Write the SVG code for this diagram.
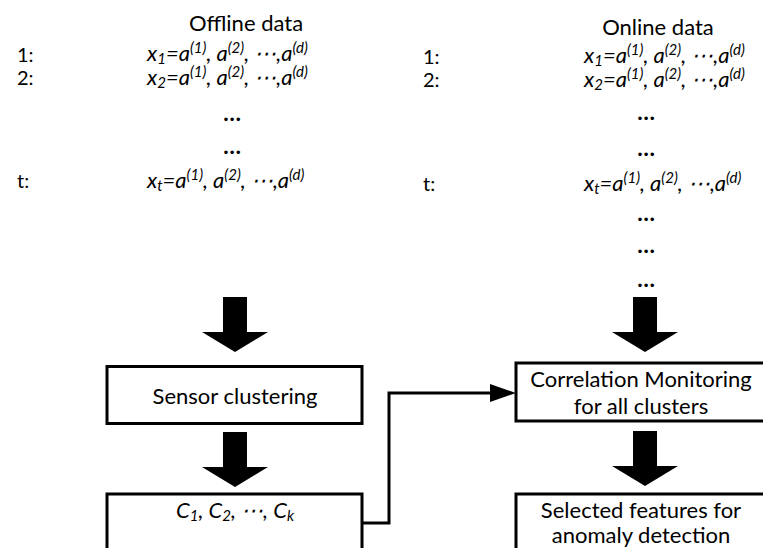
<svg xmlns="http://www.w3.org/2000/svg" xmlns:xlink="http://www.w3.org/1999/xlink" width="763" height="548" viewBox="0 0 763 548">
<style>
text { font-family: Lato, "Open Sans", "Liberation Sans", sans-serif; fill: #000; }
.t { font-size: 22px; }
.lab { font-size: 20px; }
.ex { font-size: 22px; font-style: italic; }
.sm { font-size: 15px; }
.dots { font-size: 23px; font-weight: bold; text-anchor: middle; }
.c { text-anchor: middle; }
.box { fill: #fff; stroke: #000; stroke-width: 3; }
.conn { fill: none; stroke: #000; stroke-width: 3; }
.blk { fill: #000; }
</style>
<defs>
<path id="bigArrow" class="blk" d="M-12,0 H12 V35 H33 L0,55 L-33,35 H-12 Z"/>
<marker id="ah" markerUnits="userSpaceOnUse" viewBox="0 0 26 18" refX="10" refY="9" markerWidth="26" markerHeight="18" orient="auto">
<path d="M0,0 L26,9 L0,18 Z" fill="#000"/>
</marker>
</defs>

<g id="offline-data">
<text class="t c" x="246" y="31">Offline data</text>
<text class="lab" x="17" y="62">1:</text>
<text class="lab" x="17" y="85">2:</text>
<text class="lab" x="17" y="188">t:</text>
<text class="ex" x="147" y="61">x<tspan class="sm" dy="3">1</tspan><tspan dy="-3">=a</tspan><tspan class="sm" dy="-8">(1)</tspan><tspan dy="8">, a</tspan><tspan class="sm" dy="-8">(2)</tspan><tspan dy="8">,  ⋯,a</tspan><tspan class="sm" dy="-8">(d)</tspan></text>
<text class="ex" x="147" y="85">x<tspan class="sm" dy="3">2</tspan><tspan dy="-3">=a</tspan><tspan class="sm" dy="-8">(1)</tspan><tspan dy="8">, a</tspan><tspan class="sm" dy="-8">(2)</tspan><tspan dy="8">,  ⋯,a</tspan><tspan class="sm" dy="-8">(d)</tspan></text>
<text class="dots" x="232" y="121">…</text>
<text class="dots" x="232" y="154">…</text>
<text class="ex" x="147" y="188">x<tspan class="sm" dy="3">t</tspan><tspan dy="-3">=a</tspan><tspan class="sm" dy="-8">(1)</tspan><tspan dy="8">, a</tspan><tspan class="sm" dy="-8">(2)</tspan><tspan dy="8">,  ⋯,a</tspan><tspan class="sm" dy="-8">(d)</tspan></text>
</g>

<g id="online-data">
<text class="t c" x="658" y="35">Online data</text>
<text class="lab" x="423" y="64">1:</text>
<text class="lab" x="423" y="87">2:</text>
<text class="lab" x="423" y="191">t:</text>
<text class="ex" x="584" y="63">x<tspan class="sm" dy="3">1</tspan><tspan dy="-3">=a</tspan><tspan class="sm" dy="-8">(1)</tspan><tspan dy="8">, a</tspan><tspan class="sm" dy="-8">(2)</tspan><tspan dy="8">,  ⋯,a</tspan><tspan class="sm" dy="-8">(d)</tspan></text>
<text class="ex" x="584" y="87">x<tspan class="sm" dy="3">2</tspan><tspan dy="-3">=a</tspan><tspan class="sm" dy="-8">(1)</tspan><tspan dy="8">, a</tspan><tspan class="sm" dy="-8">(2)</tspan><tspan dy="8">,  ⋯,a</tspan><tspan class="sm" dy="-8">(d)</tspan></text>
<text class="dots" x="646" y="120">…</text>
<text class="dots" x="646" y="156">…</text>
<text class="ex" x="584" y="191">x<tspan class="sm" dy="3">t</tspan><tspan dy="-3">=a</tspan><tspan class="sm" dy="-8">(1)</tspan><tspan dy="8">, a</tspan><tspan class="sm" dy="-8">(2)</tspan><tspan dy="8">,  ⋯,a</tspan><tspan class="sm" dy="-8">(d)</tspan></text>
<text class="dots" x="646" y="221">…</text>
<text class="dots" x="646" y="253">…</text>
<text class="dots" x="646" y="287">…</text>
</g>

<g id="sensor-clustering">
<rect class="box" x="107" y="366.5" width="255" height="57"/>
<text class="t c" x="235" y="404">Sensor clustering</text>
</g>

<g id="clusters">
<rect class="box" x="107" y="494" width="255" height="62"/>
<text class="ex c" x="235" y="518">C<tspan class="sm" dy="3">1</tspan><tspan dy="-3">, C</tspan><tspan class="sm" dy="3">2</tspan><tspan dy="-3">,  ⋯, C</tspan><tspan class="sm" dy="3">k</tspan></text>
</g>

<g id="correlation-monitoring">
<rect class="box" x="516" y="363" width="254" height="58"/>
<text class="t c" x="641" y="387">Correlation Monitoring</text>
<text class="t c" x="641" y="414">for all clusters</text>
</g>

<g id="selected-features">
<rect class="box" x="516" y="494" width="254" height="62"/>
<text class="t c" x="641" y="518">Selected features for</text>
<text class="t c" x="641" y="543">anomaly detection</text>
</g>

<g id="connectors">
<use xlink:href="#bigArrow" href="#bigArrow" x="235" y="297"/>
<use xlink:href="#bigArrow" href="#bigArrow" x="235" y="432"/>
<use xlink:href="#bigArrow" href="#bigArrow" x="645" y="297"/>
<use xlink:href="#bigArrow" href="#bigArrow" x="645" y="431"/>
<path class="conn" d="M362,523 H389 V393 H500" marker-end="url(#ah)"/>
</g>
</svg>
